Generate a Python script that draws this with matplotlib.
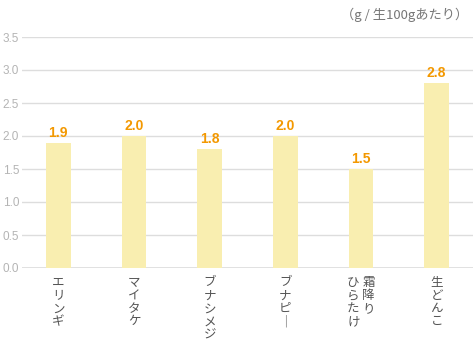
import matplotlib.pyplot as plt
import numpy as np

plt.rcParams['font.family'] = ['Noto Sans CJK JP', 'DejaVu Sans']

# data
categories = ['エリンギ', 'マイタケ', 'ブナシメジ', 'ブナピー', '霜降り\nひらたけ', '生どんこ']
values = [1.9, 2.0, 1.8, 2.0, 1.5, 2.8]
y_ticks = [0.0, 0.5, 1.0, 1.5, 2.0, 2.5, 3.0, 3.5]
unit_label = '（g / 生100gあたり）'

bar_color = '#f9eeb0'
value_color = '#f39800'
grid_color = '#dddddd'

fig = plt.figure(figsize=(4.75, 3.52), dpi=100)
ax = fig.add_axes([22 / 475, 1 - 268 / 352, 451 / 475, 231 / 352])

x = np.arange(len(categories))
ax.bar(x, values, width=0.33, color=bar_color, zorder=2)

ax.set_xlim(-0.48, len(categories) - 0.52)
ax.set_ylim(0, 3.5)
ax.set_yticks(y_ticks)
ax.set_yticklabels([f'{v:.1f}' for v in y_ticks], fontsize=8.5, color='#b4b4b4',
                   family=['Liberation Sans'])
ax.set_xticks([])
ax.tick_params(axis='y', length=0, pad=2)
for s in ax.spines.values():
    s.set_visible(False)
ax.grid(axis='y', color=grid_color, lw=1, zorder=0)
ax.axhline(0, color='#e0e0e0', lw=2, zorder=1)

# value labels
for xi, v in zip(x, values):
    ax.annotate(f'{v:.1f}', xy=(xi, v), xytext=(0, 2), textcoords='offset points',
                ha='center', va='bottom', fontsize=10, fontweight='bold',
                color=value_color, family=['Liberation Sans'])

# vertical (tategaki) category labels
def vertical(s):
    return '\n'.join('｜' if c == 'ー' else c for c in s)

for xi, lab in zip(x, categories):
    cols = lab.split('\n')
    n = len(cols)
    for j, col in enumerate(cols):
        dx = ((n - 1) / 2 - j) * 11
        ax.annotate(vertical(col), xy=(xi, 0), xycoords=('data', 'axes fraction'),
                    xytext=(dx, -6), textcoords='offset points',
                    ha='center', va='top', fontsize=9, color='#555555',
                    linespacing=1.0)

fig.text(468 / 475, 1 - 15 / 352, unit_label, ha='right', va='center',
         fontsize=9.5, color='#777777')

fig.savefig('out.png', dpi=100)
